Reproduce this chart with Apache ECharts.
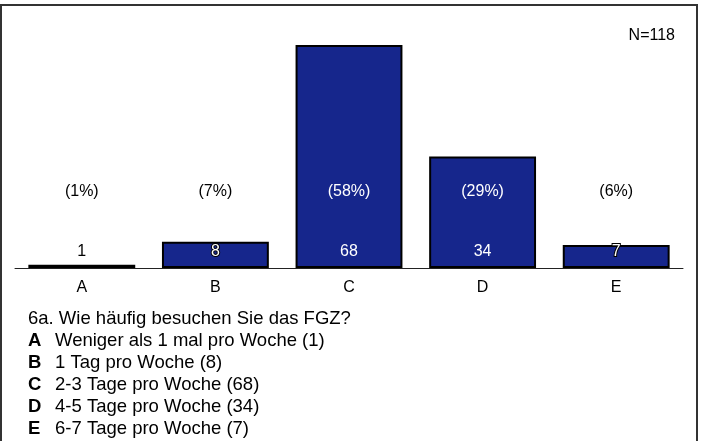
<!DOCTYPE html>
<html><head><meta charset="utf-8">
<script src="https://cdn.jsdelivr.net/npm/echarts@6/dist/echarts.min.js"></script>
<style>html,body{margin:0;padding:0;background:#fff}#c{width:704px;height:441px}</style>
</head><body><div id="c"></div>
<script>
const categories = ['A', 'B', 'C', 'D', 'E'];
const counts = [1, 8, 68, 34, 7];
const descriptions = ['Weniger als 1 mal pro Woche', '1 Tag pro Woche', '2-3 Tage pro Woche', '4-5 Tage pro Woche', '6-7 Tage pro Woche'];
const question = '6a. Wie häufig besuchen Sie das FGZ?';

const total = counts.reduce((a, b) => a + b, 0);
const FONT = 'Liberation Sans, Arial, sans-serif';
const BAR = '#16268c';

const countLabelStyle = [
  { color: '#000' },
  { color: '#fff', textBorderColor: '#000', textBorderWidth: 2 },
  { color: '#fff' },
  { color: '#fff' },
  { color: '#fff', textBorderColor: '#000', textBorderWidth: 2 }
];
const pctColor = counts.map(v => (v / 70 * 229.5 > 85 ? '#fff' : '#000'));

const legendLines = [question].concat(categories.map((c, i) => '{b|' + c + '}' + descriptions[i] + ' (' + counts[i] + ')'));

const chart = echarts.init(document.getElementById('c'), null, { renderer: 'canvas' });
chart.setOption({
  animation: false,
  backgroundColor: '#fff',
  textStyle: { fontFamily: FONT },
  grid: { left: 15, right: 21, top: 38.5, bottom: 173, containLabel: false },
  xAxis: {
    type: 'category',
    data: categories,
    axisLine: { lineStyle: { color: '#222', width: 1 } },
    axisTick: { alignWithLabel: true, length: 5, lineStyle: { color: '#222' } },
    axisLabel: { color: '#000', fontSize: 16, fontFamily: FONT, margin: 12 }
  },
  yAxis: { type: 'value', min: 0, max: 70, show: false, splitLine: { show: false } },
  title: [
    { text: 'N=' + total, right: 29, top: 28, padding: 0, textStyle: { fontSize: 16, fontWeight: 'normal', color: '#000', fontFamily: FONT } },
    {
      text: legendLines.join('\n'), left: 28, top: 308, padding: 0,
      textStyle: {
        fontSize: 18.5, fontWeight: 'normal', color: '#000', lineHeight: 22, fontFamily: FONT,
        rich: { b: { fontWeight: 'bold', fontSize: 18.5, lineHeight: 22, width: 27, fontFamily: FONT } }
      }
    }
  ],
  graphic: [
    { type: 'rect', shape: { x: 1, y: 5, width: 696, height: 460 }, style: { fill: 'none', stroke: '#333', lineWidth: 2 }, silent: true }
  ],
  series: [
    {
      type: 'bar',
      barWidth: '80%',
      data: counts.map((v, i) => ({ value: v, label: countLabelStyle[i] })),
      itemStyle: { color: BAR, borderColor: '#000', borderWidth: 2 },
      label: { show: true, position: 'insideBottom', distance: 8, fontSize: 16, fontFamily: FONT },
      z: 2
    },
    {
      type: 'bar',
      barWidth: '80%',
      barGap: '-100%',
      data: counts.map((v, i) => ({ value: v, label: { color: pctColor[i] } })),
      itemStyle: { color: 'rgba(0,0,0,0)', borderWidth: 0 },
      label: {
        show: true, position: 'insideBottom', distance: 68, fontSize: 16, fontFamily: FONT,
        formatter: p => '(' + Math.round(p.value / total * 100) + '%)'
      },
      z: 3
    }
  ]
});
</script></body></html>
